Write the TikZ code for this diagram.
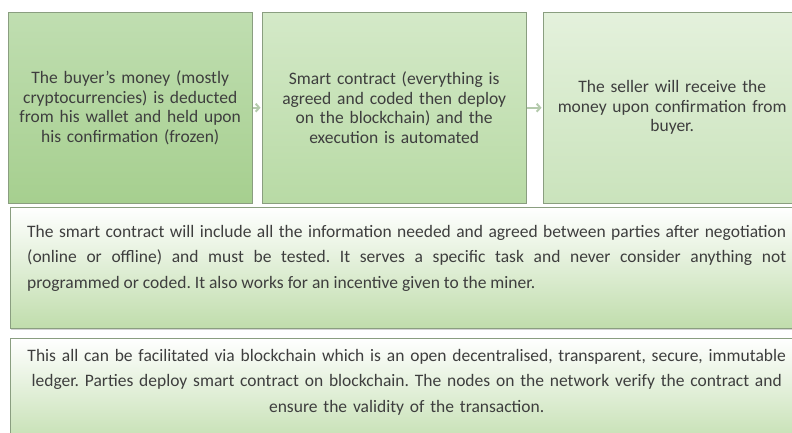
\documentclass[tikz,border=0pt]{standalone}
\usepackage{fontspec}
\setmainfont{Carlito}
\usetikzlibrary{arrows.meta,shadows}
\definecolor{ink}{RGB}{62,62,62}
\definecolor{edge}{RGB}{138,158,128}
\definecolor{chev}{RGB}{180,202,172}
\definecolor{gat}{RGB}{192,222,177}\definecolor{gab}{RGB}{166,207,143}
\definecolor{gbt}{RGB}{212,233,200}\definecolor{gbb}{RGB}{184,218,165}
\definecolor{gct}{RGB}{228,241,220}\definecolor{gcb}{RGB}{202,227,188}
\definecolor{gw}{RGB}{192,221,172}
\begin{document}
\frenchspacing
\begin{tikzpicture}[x=1bp,y=-1bp,
  box/.style={draw=edge,anchor=north west,inner sep=0pt,align=center,text=ink,
    font=\fontsize{17.5bp}{19.5bp}\selectfont,minimum height=191bp},
  wide/.style={draw=edge,anchor=north west,inner xsep=17bp,inner ysep=0pt,text=ink,
    font=\fontsize{17.5bp}{25.5bp}\selectfont,top color=white,bottom color=gw,text width=759bp},
  link/.style={draw=chev,line width=2pt,-{Straight Barb[length=3.5pt,width=8pt]},shorten <=1pt,shorten >=1.5pt}]
\useasboundingbox (0,0) rectangle (792,432);
\clip (0,0) rectangle (792,432);
% steps
\node[box,top color=gat,bottom color=gab,minimum width=244bp,text width=238bp] (buyer) at (8,12)
  {The buyer's money (mostly\\cryptocurrencies) is deducted\\from his wallet and held upon\\his confirmation (frozen)};
\node[box,top color=gbt,bottom color=gbb,minimum width=264bp,text width=248bp] (contract) at (262,12)
  {Smart contract (everything is\\agreed and coded then deploy\\on the blockchain) and the\\execution is automated};
\node[box,top color=gct,bottom color=gcb,minimum width=258bp,text width=248bp] (seller) at (543,12)
  {The seller will receive the\\money upon confirmation from\\buyer.};
\draw[link] (buyer) -- (contract);
\draw[link] (contract) -- (seller);
% notes
\node[wide,align=justify,text height=30bp,text depth=91bp,
  drop shadow={shadow xshift=0.6pt,shadow yshift=-1.6pt,opacity=0.35}] (terms) at (10,207)
  {The smart contract will include all the information needed and agreed between parties after negotiation\linebreak
   (online or offline) and must be tested. It serves a specific task and never consider anything not\linebreak
   programmed or coded. It also works for an incentive given to the miner.};
\node[wide,align=center,text height=23bp,text depth=90bp] (ledger) at (10,338)
  {This all can be facilitated via blockchain which is an open decentralised, transparent, secure, immutable\\
   ledger. Parties deploy smart contract on blockchain. The nodes on the network verify the contract and\\
   ensure the validity of the transaction.};
\end{tikzpicture}
\end{document}
